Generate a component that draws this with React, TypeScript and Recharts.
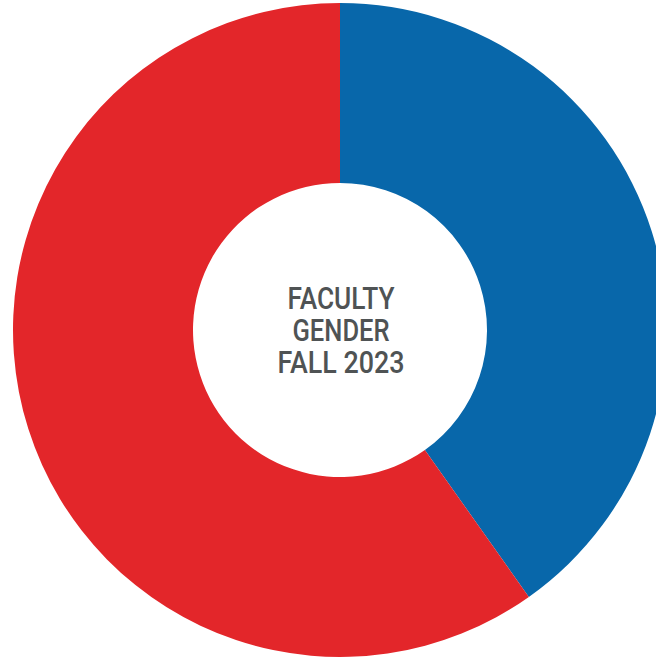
import React from "react";
import { PieChart, Pie, Cell, Label } from "recharts";

// share of faculty, fall 2023
const genders = ["Male", "Female"];
const shares = [40.2, 59.8];
const colors = ["#0867AA", "#E3262A"];
const titleLines = ["FACULTY", "GENDER", "FALL 2023"];

const data = genders.map((name, i) => ({ name, value: shares[i] }));

// width each title line takes in the reference (condensed face)
const lineWidths = [107, 97, 127];
const lineOffsets = [-21, 11, 43];

const CenterTitle = (props: any) => {
  const vb = props.viewBox || {};
  const cx = vb.cx ?? 340;
  const cy = vb.cy ?? 330;
  return (
    <g>
      {titleLines.map((line, i) => (
        <text
          key={line}
          x={cx + 1}
          y={cy + lineOffsets[i]}
          textAnchor="middle"
          fill="#4F5354"
          fontFamily="Roboto, 'Liberation Sans', sans-serif"
          fontWeight={500}
          fontSize={31}
          textLength={lineWidths[i]}
          lengthAdjust="spacingAndGlyphs"
        >
          {line}
        </text>
      ))}
    </g>
  );
};

export default function App() {
  return (
    <div style={{ position: "absolute", left: 0, top: 0, background: "#fff" }}>
      <PieChart width={656} height={661} margin={{ top: 0, right: 0, bottom: 0, left: 0 }}>
        <Pie
          data={data}
          dataKey="value"
          nameKey="name"
          cx={340}
          cy={330}
          innerRadius={147}
          outerRadius={327}
          startAngle={90}
          endAngle={-270}
          stroke="none"
          isAnimationActive={false}
        >
          {data.map((d, i) => (
            <Cell key={d.name} fill={colors[i]} />
          ))}
          <Label position="center" content={<CenterTitle />} />
        </Pie>
      </PieChart>
    </div>
  );
}
